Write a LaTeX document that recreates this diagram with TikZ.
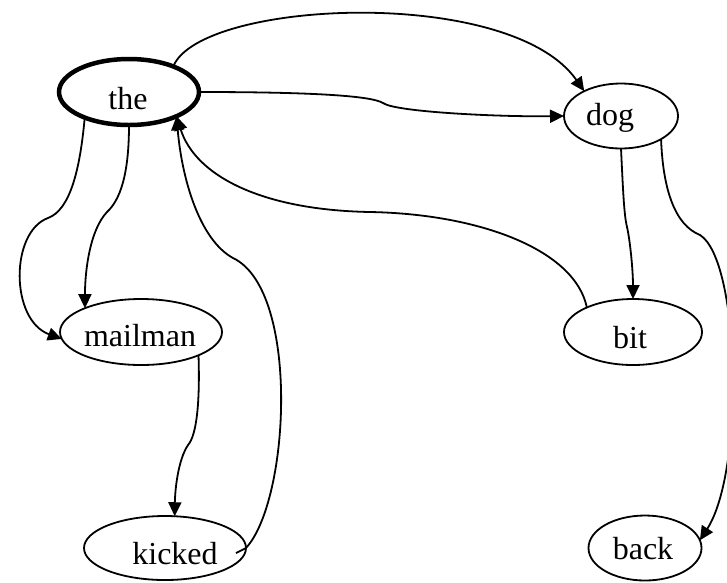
\documentclass[tikz,border=0pt]{standalone}
\usepackage{fontspec}
\setmainfont{Liberation Serif}
\usetikzlibrary{shapes.geometric,arrows.meta,calc}
\begin{document}
\begin{tikzpicture}[x=1pt,y=-1pt,
  word/.style={ellipse,draw,line width=1.8pt,inner sep=0pt,outer sep=0pt,
    font=\fontsize{32}{38}\selectfont},
  link/.style={line width=1.8pt,-{Triangle[length=14pt,width=13pt]}}]
\useasboundingbox (0,0) rectangle (727,582);
\node[word,line width=4.5pt,minimum width=140pt,minimum height=66pt,
  label={[shift={(-1,7)},font=\fontsize{32}{38}\selectfont]center:the}] (the) at (129,92) {};
\node[word,minimum width=114pt,minimum height=65pt,
  label={[shift={(-11,2)},font=\fontsize{32}{38}\selectfont]center:dog}] (dog) at (621,116) {};
\node[word,minimum width=162pt,minimum height=66pt,
  label={[shift={(-1,4)},font=\fontsize{32}{38}\selectfont]center:mailman}] (mailman) at (141,332) {};
\node[word,minimum width=162pt,minimum height=64pt,
  label={[shift={(10,6)},font=\fontsize{32}{38}\selectfont]center:kicked}] (kicked) at (165,548) {};
\node[word,minimum width=138pt,minimum height=66pt,
  label={[shift={(-3,6)},font=\fontsize{32}{38}\selectfont]center:bit}] (bit) at (633,332) {};
\node[word,minimum width=113pt,minimum height=65pt,
  label={[shift={(-2,1)},font=\fontsize{32}{38}\selectfont]center:back}] (back) at (645,548) {};
% the -> dog (upper arc)
\draw[link] (the.30) .. controls (200,0) and (510,-15) .. (dog.146);
% the -> dog (middle)
\draw[link] (the.east) .. controls (300,92) and (370,95) .. (383,103)
  .. controls (395,112) and (500,117) .. (dog.west);
% bit -> the
\draw[link] (bit.152) .. controls (575,250) and (480,214) .. (370,212)
  .. controls (260,210) and (195,175) .. (the.-27);
% the -> mailman (outer loop)
\draw[link] (the.210) .. controls (80,170) and (70,210) .. (48,218)
  .. controls (10,232) and (10,320) .. (mailman.185);
% the -> mailman (inner)
\draw[link] (the.south) .. controls (129,175) and (120,200) .. (107,212)
  .. controls (90,230) and (85,270) .. (mailman.157);
% kicked -> the
\draw[link] ($(kicked.east)+(-10,5)$) -- (kicked.east)
  .. controls (290,500) and (300,290) .. (233,258)
  .. controls (200,240) and (182,180) .. (the.-27);
% mailman -> kicked
\draw[link] (mailman.-22) .. controls (200,400) and (197,435) .. (188,445)
  .. controls (178,460) and (175,490) .. (kicked.73);
% dog -> bit
\draw[link] (dog.south) .. controls (623,190) and (624,215) .. (627,227)
  .. controls (630,240) and (633,270) .. (bit.north);
% dog -> back
\draw[link] (dog.-30) .. controls (663,190) and (675,225) .. (700,235)
  .. controls (740,260) and (745,470) .. (back.8);
\end{tikzpicture}
\end{document}
